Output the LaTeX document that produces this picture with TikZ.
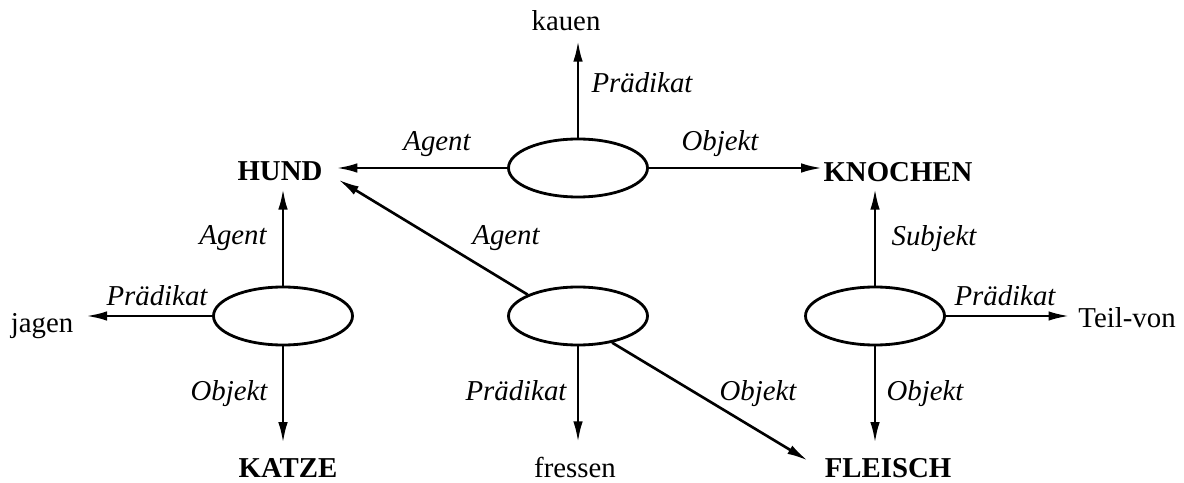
\documentclass[tikz,border=0pt]{standalone}
\usepackage{fontspec}
\setmainfont{Liberation Serif}
\usetikzlibrary{arrows.meta,shapes.geometric}

\tikzset{
  rel/.style={draw, ellipse, line width=1.6pt, minimum width=2.78cm, minimum height=1.16cm, inner sep=0pt},
  concept/.style={anchor=base, inner sep=0pt, font=\fontsize{16.4}{19}\selectfont\bfseries},
  word/.style={anchor=base, inner sep=0pt, font=\fontsize{16.4}{19}\selectfont},
  role/.style={anchor=base, inner sep=0pt, font=\fontsize{16.4}{19}\selectfont\itshape},
  arr/.style={line width=1.5pt, -{Latex[length=4.2mm,width=1.9mm]}}
}

\begin{document}
\begin{tikzpicture}
          \useasboundingbox (0, 0) rectangle (23.68, 9.64);

          % relation nodes
          \node[rel] (etop) at (11.56, 6.28) {};
          \node[rel] (eleft) at (5.66, 3.32) {};
          \node[rel] (emid) at (11.56, 3.32) {};
          \node[rel] (eright) at (17.50, 3.32) {};

          % concepts and predicates
          \node[word] (kauen) at (11.32, 9.02) {kauen};
          \node[concept] (hund) at (5.60, 6.02) {HUND};
          \node[concept] (knochen) at (17.96, 6.00) {KNOCHEN};
          \node[word] (jagen) at (0.84, 3.00) {jagen};
          \node[word] (teilvon) at (22.54, 3.10) {Teil-von};
          \node[concept] (katze) at (5.76, 0.10) {KATZE};
          \node[word] (fressen) at (11.50, 0.10) {fressen};
          \node[concept] (fleisch) at (17.76, 0.10) {FLEISCH};

          % kauen
          \draw[arr, shorten >=0.18cm] (etop.north) -- (etop.north |- kauen.south);
          \draw[arr, shorten >=0.27cm] (etop.west) -- (etop.west -| hund.east);
          \draw[arr, shorten >=0.02cm] (etop.east) -- (etop.east -| knochen.west);
          \node[role] (kpraed) at (12.84, 7.78) {Prädikat};
          \node[role] (kagent) at (8.74, 6.62) {Agent};
          \node[role] (kobjekt) at (14.40, 6.62) {Objekt};

          % jagen
          \draw[arr, shorten >=0.14cm] (eleft.north) -- (eleft.north |- hund.south);
          \draw[arr, shorten >=0.25cm] (eleft.west) -- (eleft.west -| jagen.east);
          \draw[arr, shorten >=0.29cm] (eleft.south) -- (eleft.south |- katze.north);
          \node[role] (jagent) at (4.66, 4.74) {Agent};
          \node[role] (jpraed) at (3.14, 3.54) {Prädikat};
          \node[role] (jobjekt) at (4.58, 1.64) {Objekt};

          % fressen
          \draw[arr] (emid.157) -- ([xshift=0.31cm, yshift=0.04cm]hund.south east);
          \draw[arr, shorten >=0.28cm] (emid.south) -- (emid.south |- fressen.north);
          \draw[arr] (emid.-38) -- ([xshift=-0.33cm, yshift=0.14cm]fleisch.west);
          \node[role] (fagent) at (10.12, 4.74) {Agent};
          \node[role] (fpraed) at (10.32, 1.64) {Prädikat};
          \node[role] (fobjekt) at (15.16, 1.64) {Objekt};

          % Teil-von
          \draw[arr, shorten >=0.12cm] (eright.north) -- (eright.north |- knochen.south);
          \draw[arr, shorten >=0.17cm] (eright.east) -- (eright.east -| teilvon.west);
          \draw[arr, shorten >=0.29cm] (eright.south) -- (eright.south |- fleisch.north);
          \node[role] (tsubjekt) at (18.68, 4.72) {Subjekt};
          \node[role] (tpraed) at (20.10, 3.52) {Prädikat};
          \node[role] (tobjekt) at (18.50, 1.64) {Objekt};
        \end{tikzpicture}
\end{document}
